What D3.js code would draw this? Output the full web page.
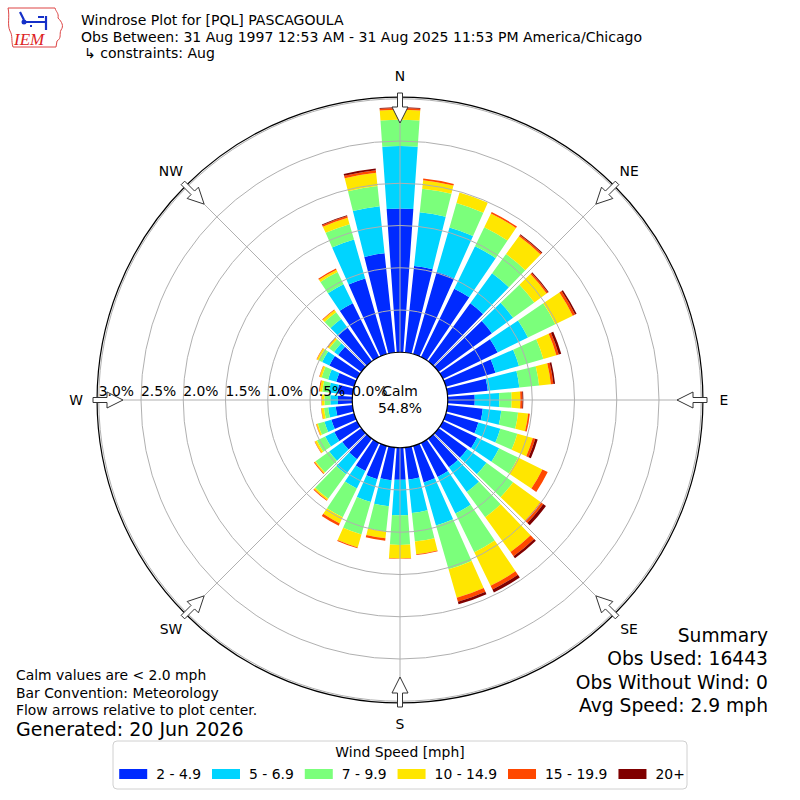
<!DOCTYPE html>
<html>
<head>
<meta charset="utf-8">
<script src="https://cdn.jsdelivr.net/npm/d3@7"></script>
<style>
  body { margin: 0; background: #fff; }
  text { font-family: "DejaVu Sans", sans-serif; fill: #000; }
</style>
</head>
<body>
<div id="chart"></div>
<script>
// wind direction bins (degrees, meteorological)
const directions = d3.range(0, 360, 10);
const speedBins = ["2 - 4.9", "5 - 6.9", "7 - 9.9", "10 - 14.9", "15 - 19.9", "20+"];
const binColors = ["#002aff", "#00d4ff", "#7bff7b", "#ffe600", "#ff4800", "#800000"];

// frequency (%) of each speed bin per direction
const spd2to5 = [1.70, 1.03, 1.01, 0.90, 0.85, 0.78, 0.72, 0.61, 0.48, 0.32, 0.42, 0.40,
                 0.45, 0.42, 0.42, 0.45, 0.45, 0.38, 0.38, 0.39, 0.41, 0.37, 0.30, 0.28,
                 0.30, 0.28, 0.20, 0.17, 0.18, 0.22, 0.365, 0.34, 0.49, 0.71, 0.93, 1.18];
const spd5to7 = [0.74, 0.64, 0.55, 0.56, 0.44, 0.31, 0.40, 0.29, 0.375, 0.29, 0.22, 0.27,
                 0.29, 0.28, 0.36, 0.48, 0.53, 0.40, 0.42, 0.31, 0.28, 0.23, 0.22, 0.19,
                 0.12, 0.085, 0.09, 0.09, 0.10, 0.10, 0.095, 0.06, 0.13, 0.25, 0.48, 0.56];
const spd7to10 = [0.31, 0.28, 0.30, 0.25, 0.28, 0.31, 0.36, 0.30, 0.235, 0.147, 0.20, 0.21,
                  0.25, 0.39, 0.37, 0.51, 0.54, 0.34, 0.35, 0.30, 0.40, 0.38, 0.36, 0.20,
                  0.11, 0.082, 0.05, 0.07, 0.08, 0.08, 0.05, 0.07, 0.10, 0.16, 0.19, 0.24];
const spd10to15 = [0.12, 0.10, 0.13, 0.18, 0.26, 0.18, 0.23, 0.16, 0.14, 0.103, 0.12, 0.19,
                   0.32, 0.40, 0.51, 0.44, 0.35, 0.15, 0.16, 0.08, 0.16, 0.08, 0.02, 0.015,
                   0.025, 0.018, 0.03, 0.03, 0.03, 0.025, 0.02, 0.02, 0.03, 0.03, 0.08, 0.16];
const spd15to20 = [0.02, 0.02, 0.00, 0.02, 0.02, 0.02, 0.03, 0.03, 0.03, 0.025, 0.02, 0.03,
                   0.07, 0.04, 0.06, 0.05, 0.05, 0.01, 0.005, 0.03, 0.01, 0.03, 0.01, 0.01,
                   0.005, 0.005, 0.005, 0.005, 0.01, 0.005, 0.005, 0.01, 0.01, 0.015, 0.02, 0.03];
const spd20up = [0.01, 0.00, 0.00, 0.00, 0.01, 0.01, 0.02, 0.03, 0.02, 0.01, 0.00, 0.03,
                 0.00, 0.04, 0.03, 0.04, 0.03, 0.00, 0.00, 0.00, 0.00, 0.00, 0.00, 0.00,
                 0.00, 0.00, 0.00, 0.00, 0.00, 0.00, 0.00, 0.00, 0.00, 0.00, 0.01, 0.02];

const ringTicks = [0.0, 0.5, 1.0, 1.5, 2.0, 2.5, 3.0];
const compassLabels = ["N", "NE", "E", "SE", "S", "SW", "W", "NW"];
const calmPct = "54.8%";

const titleLines = ["Windrose Plot for [PQL] PASCAGOULA",
                    "Obs Between: 31 Aug 1997 12:53 AM - 31 Aug 2025 11:53 PM America/Chicago",
                    "\u21b3 constraints: Aug"];
const noteLines = ["Calm values are < 2.0 mph", "Bar Convention: Meteorology",
                   "Flow arrows relative to plot center."];
const generated = "Generated: 20 Jun 2026";
const summaryLines = ["Summary", "Obs Used: 16443", "Obs Without Wind: 0", "Avg Speed: 2.9 mph"];

const width = 800, height = 800;
const cx = 400, cy = 400;
const rad = d => d * Math.PI / 180;

const svg = d3.select("#chart")
    .append("svg")
        .attr("width", width)
        .attr("height", height);

let r = d3.scaleLinear()
    .domain([0, 3])
    .range([47.75, 301.25]);
let outerR = r(3.02);

let keys = ["b0", "b1", "b2", "b3", "b4", "b5"];
let series = [spd2to5, spd5to7, spd7to10, spd10to15, spd15to20, spd20up];
let table = directions.map((dir, i) => {
    let row = {dir: dir};
    keys.forEach((k, j) => row[k] = series[j][i]);
    return row;
});
let stacked = d3.stack().keys(keys)(table);

let plot = svg.append("g")
    .attr("transform", `translate(${cx},${cy})`);

// bars
let arc = d3.arc()
    .innerRadius(d => r(d[0]))
    .outerRadius(d => r(d[1]))
    .startAngle(d => rad(d.data.dir - 4))
    .endAngle(d => rad(d.data.dir + 4));

stacked.forEach((layer, j) => {
    plot.append("g")
        .selectAll("path")
        .data(layer.filter(d => d[1] - d[0] > 0))
        .join("path")
        .attr("d", arc)
        .attr("fill", binColors[j]);
});

// grid on top
plot.append("g")
    .selectAll("circle")
    .data(ringTicks.slice(1))
    .join("circle")
    .attr("r", d => r(d))
    .attr("fill", "none")
    .attr("stroke", "#b0b0b0")
    .attr("stroke-width", 1);

plot.append("g")
    .selectAll("line")
    .data(compassLabels)
    .join("line")
    .attr("x1", (d, i) => r(0) * Math.sin(rad(i * 45)))
    .attr("y1", (d, i) => -r(0) * Math.cos(rad(i * 45)))
    .attr("x2", (d, i) => outerR * Math.sin(rad(i * 45)))
    .attr("y2", (d, i) => -outerR * Math.cos(rad(i * 45)))
    .attr("stroke", "#b0b0b0")
    .attr("stroke-width", 1);

plot.append("circle")
    .attr("r", outerR)
    .attr("fill", "none")
    .attr("stroke", "#000")
    .attr("stroke-width", 1.2);

// calm circle
plot.append("circle")
    .attr("r", r(0))
    .attr("fill", "#fff")
    .attr("stroke", "#000")
    .attr("stroke-width", 1.2);

// flow arrows, pointing toward the centre
let arrowShape = [[307, -2.5], [293, -2.5], [293, -8], [277, 0], [293, 8], [293, 2.5], [307, 2.5]];
plot.append("g")
    .selectAll("path")
    .data(compassLabels)
    .join("path")
    .attr("d", (d, i) => {
        let a = rad(i * 45);
        let pts = arrowShape.map(([al, ac]) => [
            al * Math.sin(a) + ac * Math.cos(a),
            -al * Math.cos(a) + ac * Math.sin(a)]);
        return d3.line()(pts) + "Z";
    })
    .attr("fill", "#fff")
    .attr("stroke", "#333")
    .attr("stroke-width", 1);

// compass labels
plot.append("g")
    .selectAll("text")
    .data(compassLabels)
    .join("text")
    .attr("x", (d, i) => 324 * Math.sin(rad(i * 45)))
    .attr("y", (d, i) => -324 * Math.cos(rad(i * 45)))
    .attr("text-anchor", "middle")
    .attr("dominant-baseline", "central")
    .style("font-size", "13.9px")
    .text(d => d);

// ring labels along the west axis
plot.append("g")
    .selectAll("text")
    .data(ringTicks)
    .join("text")
    .attr("x", d => -r(d))
    .attr("y", -4)
    .style("font-size", "13.9px")
    .text(d => d.toFixed(1) + "%");

plot.append("text")
    .attr("y", -4)
    .attr("text-anchor", "middle")
    .style("font-size", "13.9px")
    .text("Calm");
plot.append("text")
    .attr("y", 13)
    .attr("text-anchor", "middle")
    .style("font-size", "13.9px")
    .text(calmPct);

// header
svg.selectAll(".title")
    .data(titleLines)
    .join("text")
    .attr("class", "title")
    .attr("x", (d, i) => i == 2 ? 84 : 81)
    .attr("y", (d, i) => 25 + i * 16.7)
    .style("font-size", "14.05px")
    .text(d => d);

// IEM logo
let logo = svg.append("g");
logo.append("path")
    .attr("d", "M8,8 L55,8 C56,12 59,13 58,18 C62,22 64,26 61,30 C59,34 62,38 57,41 L56,47 L13,47 C11,41 13,36 10,31 C7,25 10,16 8,8 Z")
    .attr("fill", "none")
    .attr("stroke", "#d44")
    .attr("stroke-width", 1);
logo.append("path")
    .attr("d", "M20,12 L24,20 M22,22 L46,22 M46,16 L46,30 M38,17 L44,17 M30,26 L32,26")
    .attr("stroke", "#1530c8")
    .attr("stroke-width", 2.2)
    .attr("fill", "none");
logo.append("circle")
    .attr("cx", 24).attr("cy", 22).attr("r", 2.5)
    .attr("fill", "#1530c8");
logo.append("text")
    .attr("x", 14)
    .attr("y", 45)
    .style("font-family", "'Liberation Serif', serif")
    .style("font-style", "italic")
    .style("font-size", "17px")
    .style("fill", "#d22")
    .text("IEM");

// bottom left notes
svg.selectAll(".note")
    .data(noteLines)
    .join("text")
    .attr("class", "note")
    .attr("x", 16)
    .attr("y", (d, i) => 680 + i * 17.5)
    .style("font-size", "13.9px")
    .text(d => d);
svg.append("text")
    .attr("x", 16)
    .attr("y", 736)
    .style("font-size", "19px")
    .text(generated);

// summary
svg.selectAll(".summary")
    .data(summaryLines)
    .join("text")
    .attr("class", "summary")
    .attr("x", 768)
    .attr("y", (d, i) => 642 + i * 23.3)
    .attr("text-anchor", "end")
    .style("font-size", "18.7px")
    .text(d => d);

// legend
let legend = svg.append("g");
legend.append("rect")
    .attr("x", 113).attr("y", 741)
    .attr("width", 574).attr("height", 48)
    .attr("rx", 4)
    .attr("fill", "#fff")
    .attr("stroke", "#d0d0d0");
legend.append("text")
    .attr("x", 400).attr("y", 757)
    .attr("text-anchor", "middle")
    .style("font-size", "13.9px")
    .text("Wind Speed [mph]");

let items = legend.append("g");
let xPos = 0;
speedBins.forEach((lab, j) => {
    items.append("rect")
        .attr("x", xPos).attr("y", 769)
        .attr("width", 28).attr("height", 10)
        .attr("fill", binColors[j]);
    let t = items.append("text")
        .attr("x", xPos + 37).attr("y", 779)
        .style("font-size", "13.9px")
        .text(lab);
    xPos += 37 + t.node().getComputedTextLength() + 11;
});
let itemsW = xPos - 11;
items.attr("transform", `translate(${400 - itemsW / 2 + 2},0)`);
</script>
</body>
</html>
